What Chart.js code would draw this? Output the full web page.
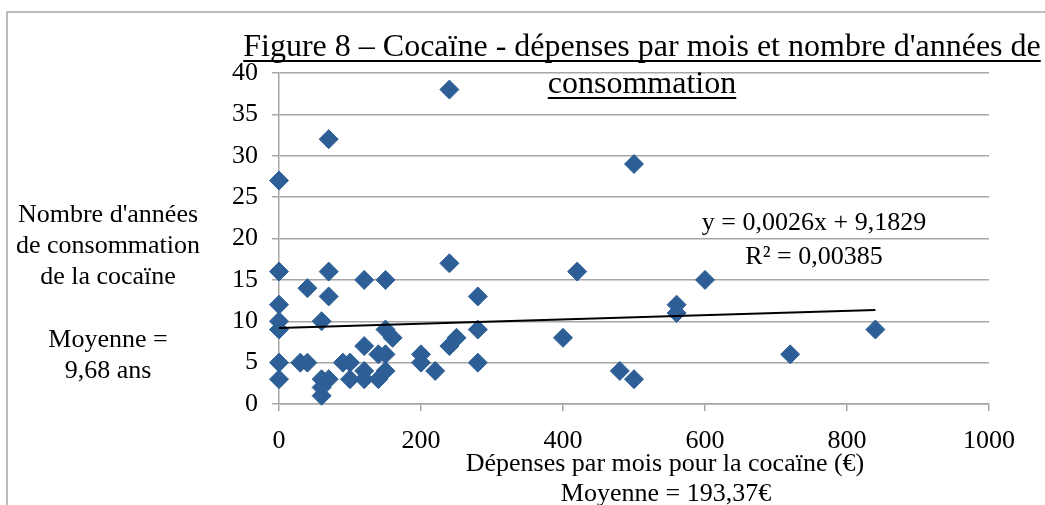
<!DOCTYPE html>
<html>
<head>
<meta charset="utf-8">
<script src="https://cdn.jsdelivr.net/npm/chart.js@4/dist/chart.umd.min.js"></script>
<style>
  html, body { margin: 0; padding: 0; background: #fff; }
  canvas { display: block; }
</style>
</head>
<body>
<canvas id="chart" width="1045" height="505"></canvas>
<script>
// dépenses par mois (€) et nombre d'années de consommation
const spending = [
  0, 0, 0, 0, 0, 0, 0,
  30, 40, 40,
  60, 60, 60, 60,
  70, 70, 70, 70,
  90, 100, 100,
  120, 120, 120, 120,
  140, 140,
  150, 150, 150, 150,
  160,
  200, 200, 220,
  240, 240, 240, 250,
  280, 280, 280,
  400, 420, 480, 500, 500, 560, 560, 600, 720, 840
];
const years = [
  27, 16, 12, 10, 9, 5, 3,
  5, 5, 14,
  10, 3, 2, 1,
  32, 16, 13, 3,
  5, 5, 3,
  15, 7, 4, 3,
  6, 3,
  15, 9, 6, 4,
  8,
  6, 5, 4,
  38, 17, 7, 8,
  13, 9, 5,
  8, 16, 4, 29, 3, 12, 11, 15, 6, 9
];

const xTicks = [0, 200, 400, 600, 800, 1000];
const yTicks = [0, 5, 10, 15, 20, 25, 30, 35, 40];

// courbe de tendance linéaire affichée sur la figure
const trendSlope = 0.0026;
const trendIntercept = 9.1829;
const trendFrom = 0;
const trendTo = 840;

const titleLines = ["Figure 8 \u2013 Coca\u00efne - d\u00e9penses par mois et nombre d'ann\u00e9es de", "consommation"];
const yTitleLines = ["Nombre d'ann\u00e9es", "de consommation", "de la coca\u00efne", "", "Moyenne =", "9,68 ans"];
const xTitleLines = ["D\u00e9penses par mois pour la coca\u00efne (\u20ac)", "Moyenne = 193,37\u20ac"];
const trendLabels = ["y = 0,0026x + 9,1829", "R\u00b2 = 0,00385"];

const points = spending.map((x, i) => ({ x: x, y: years[i] }));
const trendPoints = [trendFrom, trendTo].map(x => ({ x: x, y: trendSlope * x + trendIntercept }));

const SERIF = '"Liberation Serif", "Times New Roman", serif';
const GRID = "#a6a6a6";

const textPlugin = {
  id: "texts",
  beforeDraw(chart) {
    const c = chart.ctx;
    c.save();
    c.strokeStyle = GRID;
    c.lineWidth = 1.5;
    c.beginPath();
    c.moveTo(7, 505);
    c.lineTo(7, 12);
    c.lineTo(1045, 12);
    c.stroke();
    c.restore();
  },
  afterDraw(chart) {
    const c = chart.ctx;
    c.save();
    c.fillStyle = "#000";
    c.textAlign = "center";
    c.textBaseline = "alphabetic";

    // titre souligné
    c.font = "32px " + SERIF;
    c.strokeStyle = "#000";
    c.lineWidth = 2;
    [56, 93].forEach((y, i) => {
      c.fillText(titleLines[i], 642, y);
      const w = c.measureText(titleLines[i]).width;
      c.beginPath();
      c.moveTo(642 - w / 2, y + 5);
      c.lineTo(642 + w / 2, y + 5);
      c.stroke();
    });

    c.font = "26px " + SERIF;
    // texte à gauche
    yTitleLines.forEach((t, i) => {
      c.fillText(t, 108, 222 + i * 31.2);
    });
    // titre de l'axe x
    c.fillText(xTitleLines[0], 665, 471);
    c.fillText(xTitleLines[1], 666, 501);
    // équation de la tendance
    c.fillText(trendLabels[0], 814, 230);
    c.fillText(trendLabels[1], 814, 264);
    c.restore();
  }
};

new Chart(document.getElementById("chart"), {
  type: "scatter",
  data: {
    datasets: [
      {
        type: "line",
        data: trendPoints,
        borderColor: "#000",
        borderWidth: 2,
        pointRadius: 0,
        fill: false,
        clip: false,
        order: 0
      },
      {
        data: points,
        pointStyle: "rectRot",
        pointRadius: 9.5,
        pointBackgroundColor: "#2d5f96",
        pointBorderColor: "#2d5f96",
        pointBorderWidth: 1,
        clip: false,
        order: 1
      }
    ]
  },
  options: {
    responsive: false,
    animation: false,
    layout: { padding: { top: 73, right: 56, left: 0, bottom: 0 } },
    plugins: {
      legend: { display: false },
      tooltip: { enabled: false }
    },
    scales: {
      x: {
        type: "linear",
        min: 0,
        max: 1000,
        afterBuildTicks: s => { s.ticks = xTicks.map(v => ({ value: v })); },
        afterFit: s => { s.height = 101; },
        grid: {
          drawOnChartArea: false,
          drawTicks: true,
          tickLength: 7,
          color: GRID,
          lineWidth: 1.5
        },
        border: { color: GRID, width: 1.5 },
        ticks: {
          color: "#000",
          padding: 15,
          maxRotation: 0,
          callback: v => String(v),
          font: { family: SERIF, size: 26 }
        }
      },
      y: {
        min: 0,
        max: 40,
        afterBuildTicks: s => { s.ticks = yTicks.map(v => ({ value: v })); },
        afterFit: s => { s.width = 279; },
        grid: {
          color: GRID,
          lineWidth: 1.5,
          tickLength: 7
        },
        border: { color: GRID, width: 1.5 },
        ticks: {
          color: "#000",
          padding: 14,
          callback: v => String(v),
          font: { family: SERIF, size: 26 }
        }
      }
    }
  },
  plugins: [textPlugin]
});
</script>
</body>
</html>
